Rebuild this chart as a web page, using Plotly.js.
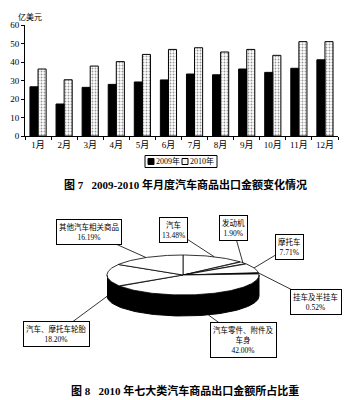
<!DOCTYPE html>
<html><head><meta charset="utf-8">
<script src="https://cdn.plot.ly/plotly-3.0.1.min.js"></script>
<style>html,body{margin:0;padding:0;background:#fff}#chart{width:363px;height:400px}</style>
</head><body><div id="chart"></div>
<script>
// ---- Bar chart data (亿美元) ----
const months = ['1月','2月','3月','4月','5月','6月','7月','8月','9月','10月','11月','12月'];
const exp2009 = [26.6,17.3,26.3,27.9,29.2,30.3,33.5,33.1,36.2,34.4,36.6,41.2];
const exp2010 = [36.2,30.4,37.8,40.2,44.1,46.8,47.7,45.4,46.8,43.6,51.0,51.0];
const seriesNames = ['2009年','2010年'];
// ---- Pie data (2010 share, %) clockwise from 12 o'clock ----
const pieLabels = ['汽车','发动机','摩托车','挂车及半挂车','汽车零件、附件及<br>车身','汽车、摩托车轮胎','其他汽车相关商品'];
const pieShares = [13.48,1.90,7.71,0.52,42.00,18.20,16.19];

const FONT = 'Liberation Serif, Noto Sans CJK SC, serif';
const colors = ['#000','#f4f4f4'];

// pie geometry (layout, in x2/y2 pixel-like units)
const cx = 183, cy = 275, rx = 76, ry = 20, depth = 21;
const boxPos = [[173,230],[233,228],[289,247],[316,302],[243,340],[56,334],[89,232]];

function pt(deg, dy){ const r = deg*Math.PI/180; return [cx + rx*Math.cos(r), cy - ry*Math.sin(r) + (dy||0)]; }

const traces = [
  {type:'bar', x:months, y:exp2009, name:seriesNames[0], xaxis:'x', yaxis:'y',
   marker:{color:colors[0], line:{color:'#000', width:1}}, hoverinfo:'skip', showlegend:false},
  {type:'bar', x:months, y:exp2010, name:seriesNames[1], xaxis:'x', yaxis:'y',
   marker:{color:colors[1], pattern:{shape:'.', fgcolor:'#999', size:3, solidity:0.3}, line:{color:'#000', width:1}}, hoverinfo:'skip', showlegend:false}
];

// 3D side (front half)
{
  const xs=[], ys=[];
  for(let a=180;a<=360;a+=2){ const p=pt(a); xs.push(p[0]); ys.push(p[1]); }
  for(let a=360;a>=180;a-=2){ const p=pt(a,depth); xs.push(p[0]); ys.push(p[1]); }
  traces.push({type:'scatter', mode:'lines', x:xs, y:ys, fill:'toself', fillcolor:'#000',
    line:{color:'#000', width:1}, xaxis:'x2', yaxis:'y2', showlegend:false, hoverinfo:'skip'});
}
// top slices
const anns = [];
let start = 90;
pieShares.forEach((s,i)=>{
  const end = start - 360*s/100;
  const xs=[cx], ys=[cy];
  const steps = Math.max(2, Math.ceil((start-end)));
  for(let k=0;k<=steps;k++){ const p=pt(start-(start-end)*k/steps); xs.push(p[0]); ys.push(p[1]); }
  xs.push(cx); ys.push(cy);
  traces.push({type:'scatter', mode:'lines', x:xs, y:ys, fill:'toself', fillcolor:'#fff',
    line:{color:'#000', width:0.8}, xaxis:'x2', yaxis:'y2', showlegend:false, hoverinfo:'skip'});
  const mid = (start+end)/2;
  const sinm = Math.sin(mid*Math.PI/180);
  const p = pt(mid, sinm<0 ? depth : 0);
  anns.push({x:p[0], y:p[1], xref:'x2', yref:'y2', ax:boxPos[i][0], ay:boxPos[i][1], axref:'x2', ayref:'y2',
    text: pieLabels[i]+'<br>'+s.toFixed(2)+'%', showarrow:true, arrowhead:0, arrowwidth:0.8, arrowcolor:'#000',
    font:{family:FONT, size:7.5, color:'#000'}, bgcolor:'#fff', bordercolor:'#000', borderwidth:1, borderpad:2, align:'center'});
  start = end;
});

// custom compact legend (layout positions in x2/y2 pixel units)
const shapes = [
  {type:'rect', xref:'x2', yref:'y2', x0:145, x1:217, y0:155.5, y1:167.5, line:{color:'#000', width:1}, fillcolor:'rgba(0,0,0,0)', layer:'below'},
  {type:'rect', xref:'x2', yref:'y2', x0:148, x1:154, y0:158.5, y1:164.5, line:{color:'#000', width:1}, fillcolor:colors[0]},
  {type:'rect', xref:'x2', yref:'y2', x0:182, x1:188, y0:158.5, y1:164.5, line:{color:'#000', width:1}, fillcolor:colors[1]}
];
anns.push({x:154.5, y:160.5, xref:'x2', yref:'y2', text:seriesNames[0], showarrow:false, xanchor:'left', yanchor:'middle',
  font:{family:FONT, size:8, color:'#000'}, borderpad:0});
anns.push({x:188.5, y:160.5, xref:'x2', yref:'y2', text:seriesNames[1], showarrow:false, xanchor:'left', yanchor:'middle',
  font:{family:FONT, size:8, color:'#000'}, borderpad:0});

anns.push({x:30/363, y:1-17/400, xref:'paper', yref:'paper', text:'亿美元', showarrow:false,
  font:{family:FONT, size:8, color:'#000'}, xanchor:'center', yanchor:'middle'});
anns.push({x:185/363, y:1-184/400, xref:'paper', yref:'paper', text:'<b>图 7   2009-2010 年月度汽车商品出口金额变化情况</b>', showarrow:false,
  font:{family:FONT, size:11, color:'#000'}, xanchor:'center', yanchor:'middle'});
anns.push({x:185/363, y:1-390/400, xref:'paper', yref:'paper', text:'<b>图 8   2010 年七大类汽车商品出口金额所占比重</b>', showarrow:false,
  font:{family:FONT, size:11, color:'#000'}, xanchor:'center', yanchor:'middle'});

const layout = {
  width:363, height:400, margin:{l:0,r:0,t:0,b:0}, paper_bgcolor:'#fff', plot_bgcolor:'rgba(0,0,0,0)',
  barmode:'group', bargap:0.38, bargroupgap:0,
  font:{family:FONT, color:'#000'},
  xaxis:{domain:[25/363, 338/363], anchor:'y', showline:true, linecolor:'#000', linewidth:1,
    ticks:'outside', tickson:'boundaries', ticklen:3, tickcolor:'#000', tickfont:{size:9, family:FONT},
    tickangle:0, showgrid:false, zeroline:false, fixedrange:true},
  yaxis:{domain:[1-136/400, 1-25/400], anchor:'x', range:[0,60], dtick:10, showline:true, linecolor:'#000', linewidth:1,
    ticks:'outside', ticklen:3, tickcolor:'#000', tickfont:{size:9, family:FONT}, showgrid:false, zeroline:false, fixedrange:true},
  xaxis2:{domain:[0,1], range:[0,363], anchor:'y2', visible:false, fixedrange:true},
  yaxis2:{domain:[0,1], range:[400,0], anchor:'x2', visible:false, fixedrange:true},
  showlegend:false,
  shapes:shapes,
  annotations:anns
};
Plotly.newPlot('chart', traces, layout, {staticPlot:true, displayModeBar:false});
</script></body></html>
